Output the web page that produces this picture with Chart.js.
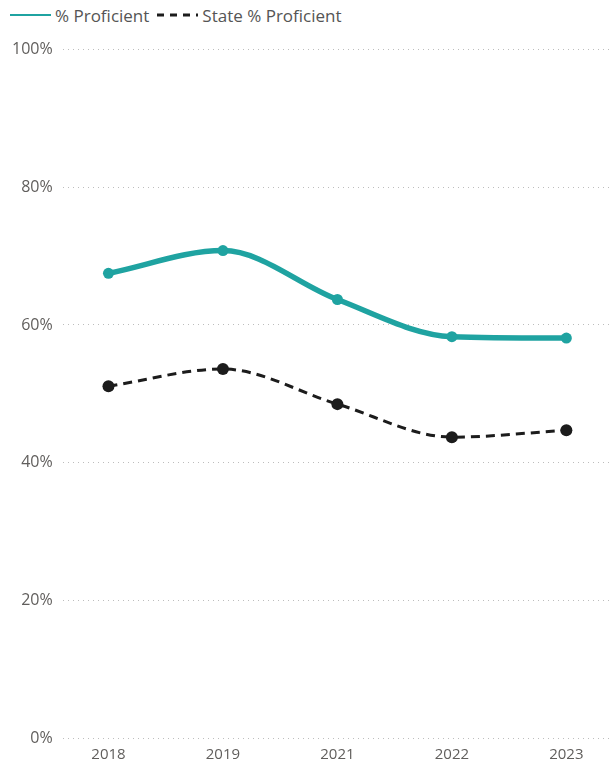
<!DOCTYPE html>
<html>
<head>
<meta charset="utf-8">
<script src="https://cdn.jsdelivr.net/npm/chart.js@4"></script>
<style>
  html, body { margin: 0; padding: 0; background: #fff; }
  #legend {
    height: 30px; display: flex; align-items: center;
    font-family: "Open Sans", "Noto Sans", sans-serif; font-size: 17px; color: #555;
    padding-left: 10px;
  }
  #legend .item { display: flex; align-items: center; margin-right: 8px; }
  #legend svg { margin-right: 4px; }
  #wrap { width: 611px; height: 734px; }
</style>
</head>
<body>
<div id="legend"></div>
<div id="wrap"><canvas id="chartProficient"></canvas></div>
<script>
const years = ['2018', '2019', '2021', '2022', '2023'];
const proficient = [67.5, 70.8, 63.7, 58.3, 58.1];
const stateProficient = [51.1, 53.6, 48.5, 43.7, 44.7];
const yTicks = [0, 20, 40, 60, 80, 100];

const textColor = '#605e5c';
const fontFamily = '"Open Sans", "Noto Sans", sans-serif';

const series = [
    { label: '% Proficient', values: proficient, color: '#1fa3a1', width: 5.5, dash: [], radius: 5.5, legendWidth: 2 },
    { label: 'State % Proficient', values: stateProficient, color: '#1c1c1c', width: 3, dash: [9, 6], radius: 6, legendWidth: 3 }
];

// legenda em HTML
const legend = document.getElementById('legend');
series.forEach(s => {
    const item = document.createElement('div');
    item.className = 'item';
    const dash = s.dash.length ? 'stroke-dasharray="7,6"' : '';
    item.innerHTML = '<svg width="41" height="6"><line x1="0" y1="3" x2="41" y2="3" stroke="' + s.color +
        '" stroke-width="' + s.legendWidth + '" ' + dash + '/></svg><span>' + s.label + '</span>';
    legend.appendChild(item);
});

const ctx = document.getElementById('chartProficient').getContext('2d');
new Chart(ctx, {
    type: 'line',
    data: {
        datasets: series.map(s => ({
            label: s.label,
            data: s.values.map((v, i) => ({ x: i, y: v })),
            borderColor: s.color,
            backgroundColor: s.color,
            borderWidth: s.width,
            borderDash: s.dash,
            pointRadius: s.radius,
            pointBorderWidth: 0,
            cubicInterpolationMode: 'monotone'
        }))
    },
    options: {
        responsive: true,
        maintainAspectRatio: false,
        animation: false,
        layout: {
            autoPadding: false,
            padding: { left: 2, right: 0, top: 18, bottom: 0 }
        },
        plugins: {
            legend: { display: false },
            tooltip: { enabled: false }
        },
        scales: {
            x: {
                type: 'linear',
                min: -0.4,
                max: years.length - 0.61,
                afterBuildTicks: (scale) => {
                    scale.ticks = years.map((y, i) => ({ value: i }));
                },
                ticks: {
                    callback: (value) => years[value],
                    color: textColor,
                    font: { family: fontFamily, size: 15 },
                    padding: 0,
                    maxRotation: 0
                },
                grid: { display: false },
                border: { display: false }
            },
            y: {
                min: 0,
                max: 100,
                afterBuildTicks: (scale) => {
                    scale.ticks = yTicks.map(v => ({ value: v }));
                },
                ticks: {
                    callback: (value) => value + '%',
                    color: textColor,
                    font: { family: fontFamily, size: 16 },
                    padding: 10
                },
                grid: {
                    color: '#bdbdbd',
                    lineWidth: 1,
                    drawTicks: false
                },
                border: { display: false, dash: [1, 4] }
            }
        }
    }
});
</script>
</body>
</html>
